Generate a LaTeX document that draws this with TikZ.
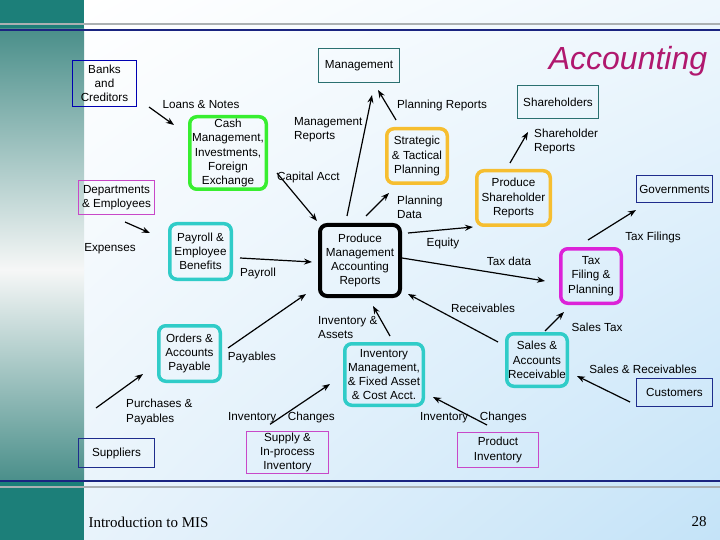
\documentclass[tikz,border=0pt]{standalone}
\usepackage{fontspec}
\setmainfont{Liberation Sans}
\newfontfamily\slideserif{Liberation Serif}
\usetikzlibrary{arrows.meta, shadings}

\definecolor{barteal}{HTML}{1C7F79}
\definecolor{barmid}{HTML}{4A8F8A}
\definecolor{barlight}{HTML}{F6F7F7}
\definecolor{rulenavy}{HTML}{1A2480}
\definecolor{rulegray}{HTML}{ABB0B2}
\definecolor{bgright}{HTML}{EEF7FD}
\definecolor{bgleft}{HTML}{E8F3FB}
\definecolor{bgdeep}{HTML}{C4E3F8}
\definecolor{partyblue}{HTML}{1E2C8C}
\definecolor{storepink}{HTML}{C848C8}
\definecolor{mgmtteal}{HTML}{2A7070}
\definecolor{cashgreen}{HTML}{38EE30}
\definecolor{opcyan}{HTML}{30CCC8}
\definecolor{planorange}{HTML}{F6BE30}
\definecolor{taxmagenta}{HTML}{DC22D8}
\definecolor{titleplum}{HTML}{B0186E}

\begin{document}
\begin{tikzpicture}[
    x=1pt, y=-1pt,
    font=\fontsize{11.7}{14.2}\selectfont,
    box/.style={rectangle, draw, line width=1pt, align=center, inner sep=1pt},
    party/.style={box, draw=partyblue},
    store/.style={box, draw=storepink},
    task/.style={box, rounded corners=7pt, line width=3.5pt},
    note/.style={inner sep=1pt, align=left},
    flow/.style={-{Stealth[length=8pt,width=6pt]}, line width=1.2pt}
]

% Slide background
\useasboundingbox (0,0) rectangle (720,540);
\shade[upper left=white, upper right=bgright, lower left=bgleft, lower right=bgdeep] (84,0) rectangle (720,540);
\fill[barteal] (0,0) rectangle (84,29);
\shade[top color=barmid, bottom color=barlight] (0,29) rectangle (84,270);
\shade[top color=barlight, bottom color=barmid] (0,270) rectangle (84,481);
\fill[barteal] (0,481) rectangle (84,540);
\draw[rulegray, line width=2pt] (0,24) -- (720,24);
\draw[rulenavy, line width=2pt] (0,30) -- (720,30);
\draw[rulenavy, line width=2pt] (0,481) -- (720,481);
\draw[rulegray, line width=2pt] (0,487) -- (720,487);

% Titles
\node[text=titleplum, font=\fontsize{32}{36}\selectfont\itshape] (title) at (628,61) {Accounting};
\node[anchor=west, font=\slideserif\fontsize{15}{18}\selectfont] (course) at (85,522) {Introduction to MIS};
\node[font=\slideserif\fontsize{15}{18}\selectfont] (page) at (699,522) {28};

% Outside parties
\node[box, draw=mgmtteal, minimum width=81, minimum height=34] (management) at (359,65.5) {Management};
\node[party, draw=blue!70!black, minimum width=64, minimum height=46] (banks) at (104.5,83.5) {Banks\\and\\Creditors};
\node[store, minimum width=76, minimum height=34] (depts) at (116.5,197.5) {Departments\\\& Employees};
\node[party, minimum width=76, minimum height=29] (suppliers) at (116.5,453) {Suppliers};
\node[store, minimum width=82, minimum height=40] (supply) at (287.5,452.5) {Supply \&\\In-process\\Inventory};
\node[box, draw=mgmtteal, minimum width=81, minimum height=33] (shareholders) at (558,102) {Shareholders};
\node[party, minimum width=76, minimum height=27] (governments) at (674.5,189) {Governments};
\node[party, minimum width=76, minimum height=28] (customers) at (674.5,392.5) {Customers};
\node[store, minimum width=81, minimum height=35] (prodinv) at (498,450) {Product\\Inventory};

% Accounting tasks
\node[task, draw=cashgreen, minimum width=76.5, minimum height=72.5] (cash) at (228,153) {Cash\\Management,\\Investments,\\Foreign\\Exchange};
\node[task, draw=opcyan, minimum width=61.5, minimum height=55.5] (payroll) at (200.5,251.5) {Payroll \&\\Employee\\Benefits};
\node[task, draw=opcyan, minimum width=61.5, minimum height=55.5] (orders) at (189.5,353.5) {Orders \&\\Accounts\\Payable};
\node[task, draw=black, line width=4pt, minimum width=80, minimum height=71] (mgmtreports) at (360,260.5) {Produce\\Management\\Accounting\\Reports};
\node[task, draw=opcyan, minimum width=78.5, minimum height=61.5] (invmgmt) at (384,374.5) {Inventory\\Management,\\\& Fixed Asset\\\& Cost Acct.};
\node[task, draw=planorange, minimum width=60.5, minimum height=54.5] (strategic) at (417,156) {Strategic\\\& Tactical\\Planning};
\node[task, draw=planorange, minimum width=73.5, minimum height=54.5] (shreports) at (513.5,198) {Produce\\Shareholder\\Reports};
\node[task, draw=taxmagenta, minimum width=60.5, minimum height=54.5] (tax) at (591,276) {Tax\\Filing \&\\Planning};
\node[task, draw=opcyan, minimum width=60.5, minimum height=52.5] (sales) at (537,360) {Sales \&\\Accounts\\Receivable};

% Flow labels
\node[note] (loansLbl) at (201,105) {Loans \& Notes};
\node[note, anchor=west] (mgmtRepLbl) at (293,130) {Management\\Reports};
\node[note, anchor=west] (capitalLbl) at (276,177) {Capital Acct};
\node[note] (planRepLbl) at (442,105) {Planning Reports};
\node[note, anchor=west] (shRepLbl) at (533,141.5) {Shareholder\\Reports};
\node[note, anchor=west] (planDataLbl) at (396,207.5) {Planning\\Data};
\node[note] (expensesLbl) at (110,249) {Expenses};
\node[note] (payrollLbl) at (258,273) {Payroll};
\node[note] (equityLbl) at (443,243) {Equity};
\node[note] (taxDataLbl) at (509,261) {Tax data};
\node[note] (taxFilLbl) at (653,237) {Tax Filings};
\node[note] (receivLbl) at (483,308) {Receivables};
\node[note] (salesTaxLbl) at (597,327) {Sales Tax};
\node[note] (salesRecLbl) at (643,369) {Sales \& Receivables};
\node[note] (payablesLbl) at (252,357) {Payables};
\node[note, anchor=west] (invAssetLbl) at (317,327.5) {Inventory \&\\Assets};
\node[note, anchor=west] (purchLbl) at (125,412) {Purchases \&\\Payables};
\node[note] (invChgLbl) at (281.5,417) {Inventory\quad Changes};
\node[note] (prodChgLbl) at (473.5,417) {Inventory\quad Changes};

% Flows
\draw[flow] ([shift={(12,0)}]banks.south east) -- ([shift={(-14,10)}]cash.north west);
\draw[flow] ([shift={(8.5,7)}]depts.south) -- ([shift={(-18,11)}]payroll.north west);
\draw[flow] ([shift={(7,6.5)}]payroll.east) -- ([shift={(-6,1.5)}]mgmtreports.west);
\draw[flow] ([shift={(6,-5.5)}]orders.east) -- ([shift={(-12,-4)}]mgmtreports.south west);
\draw[flow] ([shift={(-20.5,-30)}]suppliers.north) -- ([shift={(-14,-9)}]orders.south west);
\draw[flow] ([shift={(-17.5,-7)}]supply.north) -- ([shift={(-13,-23)}]invmgmt.south west);
\draw[flow] ([shift={(6,-6)}]invmgmt.north) -- ([shift={(13,8)}]mgmtreports.south);
\draw[flow] ([shift={(-11,-7)}]prodinv.north) -- ([shift={(8,-10)}]invmgmt.south east);
\draw[flow] ([shift={(-6,9.5)}]customers.west) -- ([shift={(8,16)}]sales.east);
\draw[flow] ([shift={(8,-1)}]sales.north) -- ([shift={(-27,7)}]tax.south);
\draw[flow] ([shift={(-7,-18)}]sales.west) -- ([shift={(6,-4)}]mgmtreports.south east);
\draw[flow] ([shift={(0,-2.5)}]mgmtreports.east) -- ([shift={(-14,5)}]tax.west);
\draw[flow] ([shift={(6,10)}]mgmtreports.north east) -- ([shift={(-2,0)}]shreports.south west);
\draw[flow] ([shift={(-3,-7)}]tax.north) -- ([shift={(0,7)}]governments.south west);
\draw[flow] ([shift={(6,-7)}]mgmtreports.north) -- ([shift={(4,8)}]strategic.south west);
\draw[flow] ([shift={(-3.5,-6)}]shreports.north) -- ([shift={(-30,13)}]shareholders.south);
\draw[flow] ([shift={(11,-7)}]strategic.north west) -- ([shift={(-22,7)}]management.south east);
\draw[flow] ([shift={(-13,-7)}]mgmtreports.north) -- ([shift={(13,12)}]management.south);
\draw[flow] ([shift={(9,20)}]cash.east) -- ([shift={(-1,-2)}]mgmtreports.north west);

\end{tikzpicture}
\end{document}
